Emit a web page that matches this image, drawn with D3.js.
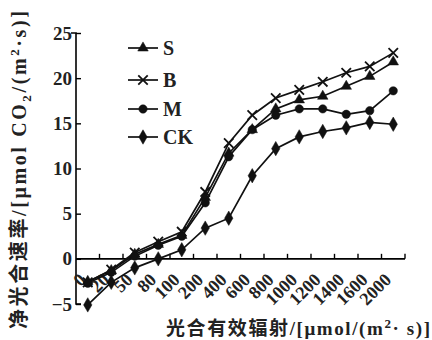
<!DOCTYPE html>
<html>
<head>
<meta charset="utf-8">
<script src="https://cdn.jsdelivr.net/npm/d3@7"></script>
<style>
  body { margin: 0; background: #fff; }
  svg { display: block; }
</style>
</head>
<body>
<script>
const categories = ["0", "20", "50", "80", "100", "200", "400", "600", "800", "1000", "1200", "1400", "1600", "2000"]
const S  = [-2.5, -1.3, 0.5, 1.6, 2.6, 6.8, 11.7, 14.3, 16.6, 17.6, 18.0, 19.1, 20.2, 21.8]
const B  = [-2.6, -1.2, 0.7, 1.9, 3.0, 7.4, 12.8, 15.9, 17.8, 18.7, 19.6, 20.6, 21.3, 22.8]
const M  = [-2.7, -1.5, 0.3, 1.5, 2.5, 6.2, 11.3, 14.3, 15.9, 16.6, 16.6, 16.0, 16.4, 18.6]
const CK = [-5.1, -2.6, -1.0, 0.0, 1.0, 3.4, 4.5, 9.2, 12.2, 13.5, 14.1, 14.5, 15.1, 14.9]
const yTicks = [-5, 0, 5, 10, 15, 20, 25]
const seriesNames = ["S", "B", "M", "CK"]

const width = 432, height = 340
const margin = {top: 33, left: 76, bottom: 36, right: 27}
const serif = '"Liberation Serif", "Noto Sans CJK SC", serif'

const svg = d3.select('body').append('svg')
  .attr('width', width).attr('height', height)

const x = d3.scaleBand().domain(categories).range([margin.left, width - margin.right])
const y = d3.scaleLinear().domain([-5, 25]).range([height - margin.bottom, margin.top])
const cx = c => x(c) + x.bandwidth() / 2

// y axis
const gY = svg.append('g')
  .attr('transform', `translate(${margin.left},0)`)
  .call(d3.axisLeft(y).tickValues(yTicks).tickSize(-5).tickPadding(6).tickFormat(d3.format('d')))
gY.select('.domain').attr('stroke-width', 1.6).attr('d', `M-5,${y(25)}H0V${y(-5)}H5`)
gY.selectAll('.tick line').attr('stroke-width', 1.4)
gY.selectAll('.tick text')
  .attr('font-family', serif).attr('font-size', 19).attr('font-weight', 'bold')
  .attr('fill', '#222').attr('x', -4)

// x axis at y = 0
const gX = svg.append('g').attr('transform', `translate(0,${y(0)})`)
gX.append('line')
  .attr('x1', margin.left).attr('x2', width - margin.right)
  .attr('stroke', '#000').attr('stroke-width', 1.6)
const bounds = categories.slice(1).map(c => x(c)).concat([x.range()[1]])
gX.selectAll('.xt').data(bounds).enter().append('line')
  .attr('x1', d => d).attr('x2', d => d).attr('y1', 0).attr('y2', -5)
  .attr('stroke', '#000').attr('stroke-width', 1.4)
gX.selectAll('.xl').data(categories).enter().append('text')
  .attr('transform', d => `translate(${cx(d) - 1},${22}) rotate(-45)`)
  .attr('text-anchor', 'end')
  .attr('font-family', serif).attr('font-size', 18).attr('font-weight', 'bold')
  .attr('fill', '#222')
  .text(d => d)

// markers
const sym = {
  S: d3.symbol().type(d3.symbolTriangle).size(48),
  B: d3.symbol().type(d3.symbolX).size(60),
  M: d3.symbol().type(d3.symbolCircle).size(55),
  CK: d3.symbol().type(d3.symbolDiamond).size(60)
}
const line = d3.line().x((d, i) => cx(categories[i])).y(d => y(d))
const data = {S, B, M, CK}

seriesNames.forEach(name => {
  const vals = data[name]
  svg.append('path').datum(vals)
    .attr('d', line).attr('fill', 'none')
    .attr('stroke', '#111').attr('stroke-width', 1.7)
  svg.selectAll('.m' + name).data(vals).enter().append('path')
    .attr('transform', (d, i) => `translate(${cx(categories[i])},${y(d)})`)
    .attr('d', sym[name]())
    .attr('fill', '#111')
    .attr('stroke', '#111')
    .attr('stroke-width', name == 'B' ? 1.8 : 0.5)
})

// legend
const legY = [48, 80, 109, 137]
seriesNames.forEach((name, i) => {
  const g = svg.append('g').attr('transform', `translate(128,${legY[i]})`)
  g.append('line').attr('x1', 0).attr('x2', 30).attr('stroke', '#111').attr('stroke-width', 1.7)
  g.append('path').attr('transform', 'translate(15,0)').attr('d', sym[name]())
    .attr('fill', '#111').attr('stroke', '#111').attr('stroke-width', name == 'B' ? 1.8 : 0.5)
  g.append('text').attr('x', 35).attr('y', 7)
    .attr('font-family', serif).attr('font-size', 20).attr('font-weight', 'bold')
    .attr('fill', '#222').text(name)
})

// axis titles
svg.append('text')
  .attr('transform', `translate(26,${170}) rotate(-90)`)
  .attr('text-anchor', 'middle')
  .attr('font-family', serif).attr('font-size', 20).attr('font-weight', 'bold')
  .attr('fill', '#222')
  .attr('textLength', 318).attr('lengthAdjust', 'spacing')
  .html('净光合速率/[μmol CO<tspan font-size="13" dy="5">2</tspan><tspan dy="-5">/(m</tspan><tspan font-size="13" dy="-7">2</tspan><tspan dy="7">·s)]</tspan>')

svg.append('text')
  .attr('x', 430).attr('y', 335)
  .attr('text-anchor', 'end')
  .attr('font-family', serif).attr('font-size', 19).attr('font-weight', 'bold')
  .attr('fill', '#222')
  .attr('textLength', 264).attr('lengthAdjust', 'spacing')
  .html('光合有效辐射/[μmol/(m<tspan font-size="13" dy="-7">2</tspan><tspan dy="7">· s)]</tspan>')
</script>
</body>
</html>
